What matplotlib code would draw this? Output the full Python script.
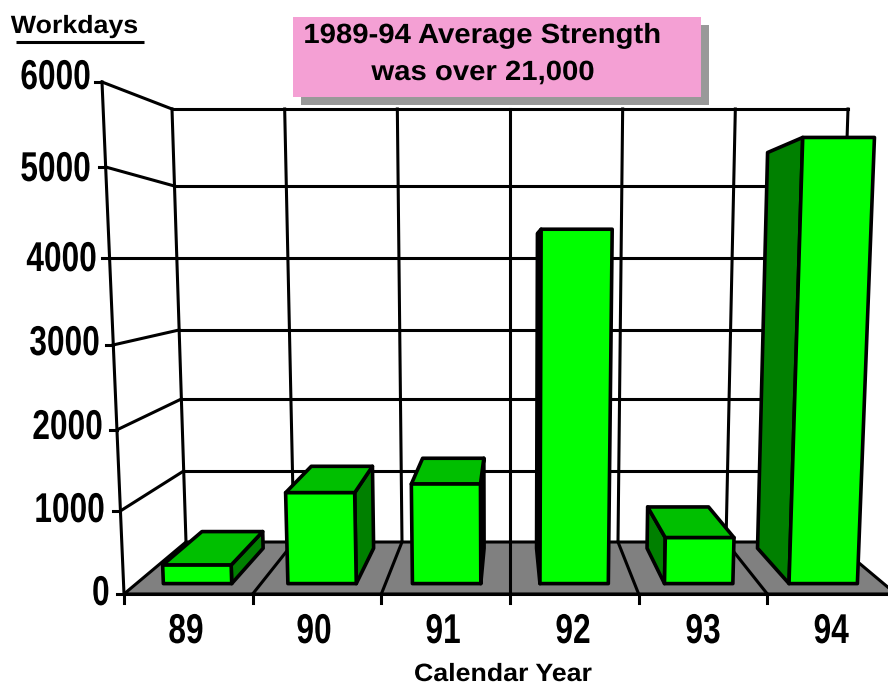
# 3D style bar chart of workdays per calendar year, perspective done by hand
import numpy as np
import matplotlib
matplotlib.use("Agg")
import matplotlib.pyplot as plt
from matplotlib.patches import Polygon, Rectangle
from matplotlib.patheffects import AbstractPathEffect
from matplotlib.transforms import Affine2D

years = ["89", "90", "91", "92", "93", "94"]
workdays = [230, 1130, 1240, 4330, 570, 5400]
y_ticks = [0, 1000, 2000, 3000, 4000, 5000, 6000]

# where the value ticks sit in pixels on the front and back planes
front_px = [594, 511, 430, 345, 258, 167, 82]
back_px = [542, 471, 399, 330, 258, 186, 109]

# right edge and baseline of the value labels, they do not follow the axis evenly
label_right = [110, 105, 103, 100, 97, 91, 91]
label_base = [605, 522, 439, 355, 271, 181, 89]
year_x = [186, 314, 443, 573, 703, 831]
# the bars are not quite evenly spaced in the reference (in u units)
bar_shift = [-0.003, -0.003, -0.003, 0.005, 0.005, 0.005]

CX = 510  # centre of the perspective
BAR_W = 0.183
D0, D1 = 0.2, 0.88  # bar depth range, 0 front, 1 back wall
LW = 2.2
BAR_LW = 2.6
ARIAL = "Liberation Sans"


class Squeeze(AbstractPathEffect):
    # scales the glyphs sideways, the reference uses a narrow bold face
    def __init__(self, sx, anchor="center"):
        super().__init__()
        self.sx = sx
        self.anchor = anchor

    def draw_path(self, renderer, gc, tpath, affine, rgbFace=None):
        ext = tpath.get_extents()
        x0 = ext.x1 if self.anchor == "right" else (ext.x0 + ext.x1) / 2
        t = Affine2D().translate(-x0, 0).scale(self.sx, 1).translate(x0, 0) + affine
        renderer.draw_path(gc, tpath, t, rgbFace)


def proj(u, v, d):
    # u -1..1 across the floor, v value, d depth
    yf = np.interp(v, y_ticks, front_px)
    yb = np.interp(v, y_ticks, back_px)
    hf = 386 + 22 * v / 6000
    hb = 324 + 14 * v / 6000
    return CX + u * (hf + (hb - hf) * d), yf + (yb - yf) * d


fig = plt.figure(figsize=(8.88, 6.88), dpi=100)
ax = fig.add_axes([0, 0, 1, 1])
ax.set_xlim(0, 888)
ax.set_ylim(688, 0)
ax.axis("off")

edges = np.linspace(-1, 1, len(years) + 1)


def line(p, q, z=2, lw=LW):
    ax.plot([p[0], q[0]], [p[1], q[1]], color="black", lw=lw, zorder=z,
            solid_capstyle="projecting")


# back wall and left wall grid
for v in y_ticks[1:]:
    line(proj(-1, v, 1), proj(1, v, 1))
    line(proj(-1, v, 0), proj(-1, v, 1))
for u in edges:
    line(proj(u, 0, 1), proj(u, 6000, 1))
line(proj(-1, 0, 0), proj(-1, 6000, 0))

# floor
floor = [proj(-1, 0, 0), proj(1, 0, 0), proj(1, 0, 1), proj(-1, 0, 1)]
ax.add_patch(Polygon(floor, closed=True, fc="#808080", ec="black", lw=LW, zorder=3))
for u in edges[1:-1]:
    line(proj(u, 0, 0), proj(u, 0, 1), z=3)

# bars
for i, val in enumerate(workdays):
    c = (edges[i] + edges[i + 1]) / 2 + bar_shift[i]
    u0, u1 = c - BAR_W / 2, c + BAR_W / 2
    inner = u1 if c < 0 else u0
    side = [proj(inner, 0, D0), proj(inner, val, D0), proj(inner, val, D1), proj(inner, 0, D1)]
    ax.add_patch(Polygon(side, closed=True, fc="#008000", ec="black", lw=BAR_LW, zorder=4,
                         joinstyle="round"))
    top = [proj(u0, val, D0), proj(u1, val, D0), proj(u1, val, D1), proj(u0, val, D1)]
    if top[2][1] < top[0][1]:
        ax.add_patch(Polygon(top, closed=True, fc="#00BF00", ec="black", lw=BAR_LW, zorder=4,
                             joinstyle="round"))
    front = [proj(u0, 0, D0), proj(u1, 0, D0), proj(u1, val, D0), proj(u0, val, D0)]
    ax.add_patch(Polygon(front, closed=True, fc="#00FF00", ec="black", lw=BAR_LW, zorder=5,
                         joinstyle="round"))

# front axis, ticks and labels
line(proj(-1, 0, 0), proj(1, 0, 0), z=6)
for u in edges[:-1]:
    x, y = proj(u, 0, 0)
    line((x, y), (x, y + 9), z=6)
for v, xr, yb in zip(y_ticks, label_right, label_base):
    x, y = proj(-1, v, 0)
    line((x - 7, y), (x, y), z=6)
    ax.text(xr, yb, str(v), ha="right", va="baseline", family=ARIAL, fontweight="bold",
            fontsize=30, zorder=7, path_effects=[Squeeze(0.76, "right")])
for xc, lab in zip(year_x, years):
    ax.text(xc, 643, lab, ha="center", va="baseline", family=ARIAL, fontweight="bold",
            fontsize=30, zorder=7, path_effects=[Squeeze(0.76)])

# titles
ax.text(74.5, 26, "Workdays", ha="center", va="center", family=ARIAL,
        fontweight="bold", fontsize=18, path_effects=[Squeeze(1.07)])
ax.plot([16, 144], [42, 42], color="black", lw=LW, solid_capstyle="butt")
ax.text(503, 674, "Calendar Year", ha="center", va="center", family=ARIAL,
        fontweight="bold", fontsize=18, path_effects=[Squeeze(1.07)])

ax.add_patch(Rectangle((301, 25), 408, 80, fc="#999999", ec="none", zorder=8))
ax.add_patch(Rectangle((293, 17), 408, 80, fc="#F4A0D4", ec="none", zorder=9))
ax.text(482, 36, "1989-94 Average Strength", ha="center", va="center", family=ARIAL,
        fontweight="bold", fontsize=20, zorder=10, path_effects=[Squeeze(1.055)])
ax.text(483, 73, "was over 21,000", ha="center", va="center", family=ARIAL,
        fontweight="bold", fontsize=20, zorder=10, path_effects=[Squeeze(1.055)])

fig.savefig("out.png", dpi=100)
